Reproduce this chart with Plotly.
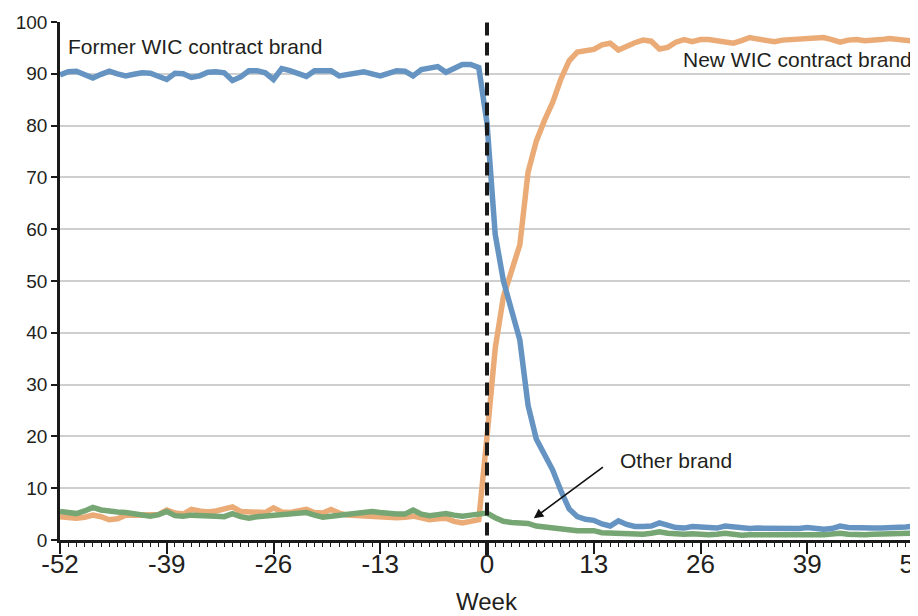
import plotly.graph_objects as go

weeks = list(range(-52, 53))

former_brand = [
    89.8, 90.4, 90.5, 89.8, 89.2, 89.9, 90.5, 90.0, 89.6, 89.9, 90.2, 90.1, 89.6,
    88.9, 90.1, 90.0, 89.3, 89.6, 90.3, 90.4, 90.2, 88.7, 89.4, 90.6, 90.6, 90.2,
    88.9, 91.0, 90.6, 90.0, 89.5, 90.6, 90.6, 90.6, 89.6, 89.9, 90.2, 90.4, 90.0,
    89.6, 90.1, 90.6, 90.5, 89.6, 90.8, 91.1, 91.4, 90.3, 91.1, 91.8, 91.8, 91.2,
    80.5, 59.0, 50.0, 44.0, 38.6, 26.0, 19.5, 16.5, 13.5, 9.5, 6.0, 4.5, 4.0,
    3.8, 3.1, 2.7, 3.7, 3.0, 2.6, 2.6, 2.7, 3.3, 2.9, 2.4, 2.3, 2.6,
    2.5, 2.3, 2.3, 2.7, 2.5, 2.3, 2.2, 2.3, 2.3, 2.2, 2.2, 2.1, 2.2,
    2.4, 2.2, 2.1, 2.2, 2.7, 2.4, 2.3, 2.3, 2.3, 2.3, 2.3, 2.4, 2.5, 2.7,
]

new_brand = [
    4.5, 4.3, 4.2, 4.4, 4.8, 4.5, 3.9, 4.1, 4.8, 4.8, 4.9, 4.8, 4.9,
    5.8, 5.2, 5.0, 5.9, 5.6, 5.4, 5.6, 5.9, 6.4, 5.5, 5.5, 5.5, 5.3,
    6.2, 5.4, 5.3, 5.6, 5.9, 5.3, 5.2, 5.9, 5.2, 4.8, 4.7, 4.6, 4.4,
    4.3, 4.2, 4.3, 4.4, 4.6, 4.3, 3.9, 4.1, 4.2, 3.6, 3.3, 3.6, 3.9,
    20.0, 37.0, 47.0, 52.0, 57.0, 71.0, 77.0, 81.0, 84.5, 89.0, 92.5, 94.2, 94.4,
    94.7, 95.6, 95.9, 94.6, 95.4, 96.0, 96.5, 96.3, 94.8, 95.1, 96.1, 96.6, 96.2,
    96.6, 96.6, 96.3, 96.0, 95.9, 96.4, 97.0, 96.7, 96.4, 96.2, 96.5, 96.6, 96.6,
    96.6, 96.8, 97.0, 96.6, 96.1, 96.5, 96.6, 96.4, 96.4, 96.6, 96.8, 96.7, 96.5, 96.3,
]

other_brand = [
    5.5, 5.2, 5.1, 5.6, 6.3, 5.8, 5.5, 5.4, 5.3, 5.1, 4.8, 4.6, 4.9,
    5.5, 4.7, 4.6, 4.8, 4.8, 4.7, 4.6, 4.5, 5.1, 4.5, 4.2, 4.5, 4.6,
    4.8, 4.8, 4.9, 5.0, 5.3, 4.8, 4.4, 4.6, 4.8, 5.0, 5.1, 5.3, 5.5,
    5.3, 5.1, 5.0, 5.0, 5.8, 5.0, 4.7, 4.9, 5.1, 4.8, 4.6, 4.8, 5.1,
    5.2, 4.3, 3.6, 3.4, 3.4, 3.2, 2.7, 2.5, 2.4, 2.3, 1.9, 1.8, 1.8,
    1.8, 1.4, 1.3, 1.4, 1.3, 1.1, 1.1, 1.3, 1.6, 1.3, 1.1, 1.1, 1.2,
    1.0, 1.0, 1.1, 1.3, 1.1, 0.9, 1.0, 1.1, 1.0, 1.0, 1.1, 1.0, 1.0,
    1.1, 1.0, 1.0, 1.1, 1.3, 1.1, 1.0, 1.0, 1.1, 1.1, 1.1, 1.2, 1.2, 1.3,
]

x_ticks = [-52, -39, -26, -13, 0, 13, 26, 39, 52]
x_tick_labels = ["-52", "-39", "-26", "-13", "0", "13", "26", "39", "52"]
y_ticks = [0, 10, 20, 30, 40, 50, 60, 70, 80, 90, 100]
x_min, x_max = -52, 52
event_week = 0

BLUE = "#6594c2"
ORANGE = "#ebab77"
GREEN = "#76a673"
INK = "#231f20"
FONT = "Liberation Sans, Arial, sans-serif"

fig = go.Figure()
fig.add_trace(go.Scatter(x=weeks, y=new_brand, mode="lines",
                         line=dict(color=ORANGE, width=5.5), name="New WIC contract brand"))
fig.add_trace(go.Scatter(x=weeks, y=other_brand, mode="lines",
                         line=dict(color=GREEN, width=5.5), name="Other brand"))
fig.add_trace(go.Scatter(x=weeks, y=former_brand, mode="lines",
                         line=dict(color=BLUE, width=5.5), name="Former WIC contract brand"))
# carrier for the weekly minor-tick axis
fig.add_trace(go.Scatter(x=weeks, y=[None] * len(weeks), mode="lines", xaxis="x2",
                         showlegend=False, hoverinfo="skip"))

x_paper = (event_week - x_min) / (x_max - x_min)
fig.add_shape(type="line", xref="paper", yref="paper", x0=x_paper, x1=x_paper,
              y0=-0.03, y1=1.0, line=dict(color="#1a1a1a", width=4, dash="13px,7px"),
              layer="above")

fig.add_annotation(x=-51.3, y=95.2, xref="x", yref="y", text="Former WIC contract brand",
                   showarrow=False, xanchor="left", yanchor="middle",
                   font=dict(family=FONT, size=21, color=INK))
fig.add_annotation(x=52, y=92.7, xref="x", yref="y", text="New WIC contract brand",
                   showarrow=False, xanchor="right", yanchor="middle",
                   font=dict(family=FONT, size=21, color=INK))
fig.add_annotation(x=15.9, y=15.3, xref="x", yref="y", text="Other brand",
                   showarrow=False, xanchor="left", yanchor="middle",
                   font=dict(family=FONT, size=21, color=INK))
fig.add_annotation(x=5.7, y=4.2, xref="x", yref="y", ax=14.3, ay=14.3, axref="x", ayref="y",
                   text="", showarrow=True, arrowhead=2, arrowsize=1.2, arrowwidth=1.6,
                   arrowcolor="#111111")
fig.add_annotation(x=0.5, y=-0.118, xref="paper", yref="paper", text="Week",
                   showarrow=False, xanchor="center", yanchor="middle",
                   font=dict(family=FONT, size=24, color=INK))

fig.update_layout(
    width=918, height=616,
    margin=dict(l=52, r=12, t=14, b=84),
    paper_bgcolor="white", plot_bgcolor="white",
    showlegend=False,
    font=dict(family=FONT, color=INK),
    xaxis=dict(range=[x_min, x_max], tickmode="array", tickvals=x_ticks, ticktext=x_tick_labels,
               automargin=False, ticklabeloverflow="allow", ticklabelstandoff=-12,
               showgrid=False, zeroline=False, showline=True, linecolor="#1a1a1a", linewidth=2.5,
               ticks="outside", ticklen=11, tickwidth=2, tickcolor="#1a1a1a",
               tickfont=dict(family=FONT, size=26, color=INK)),
    xaxis2=dict(range=[x_min, x_max], overlaying="x", anchor="y", side="bottom",
                tickmode="linear", tick0=0, dtick=1, automargin=False,
                showticklabels=False, showgrid=False, zeroline=False, showline=False,
                ticks="outside", ticklen=6, tickwidth=1.4, tickcolor="#1a1a1a"),
    yaxis=dict(range=[0, 100], tickvals=y_ticks, automargin=False,
               showgrid=True, gridcolor="#cfcfcf", gridwidth=2,
               zeroline=False, showline=True, linecolor="#1a1a1a", linewidth=2.5,
               ticks="outside", ticklen=6, tickwidth=2, tickcolor="#1a1a1a",
               tickfont=dict(family=FONT, size=19, color=INK)),
)

fig.write_html("out.html")
